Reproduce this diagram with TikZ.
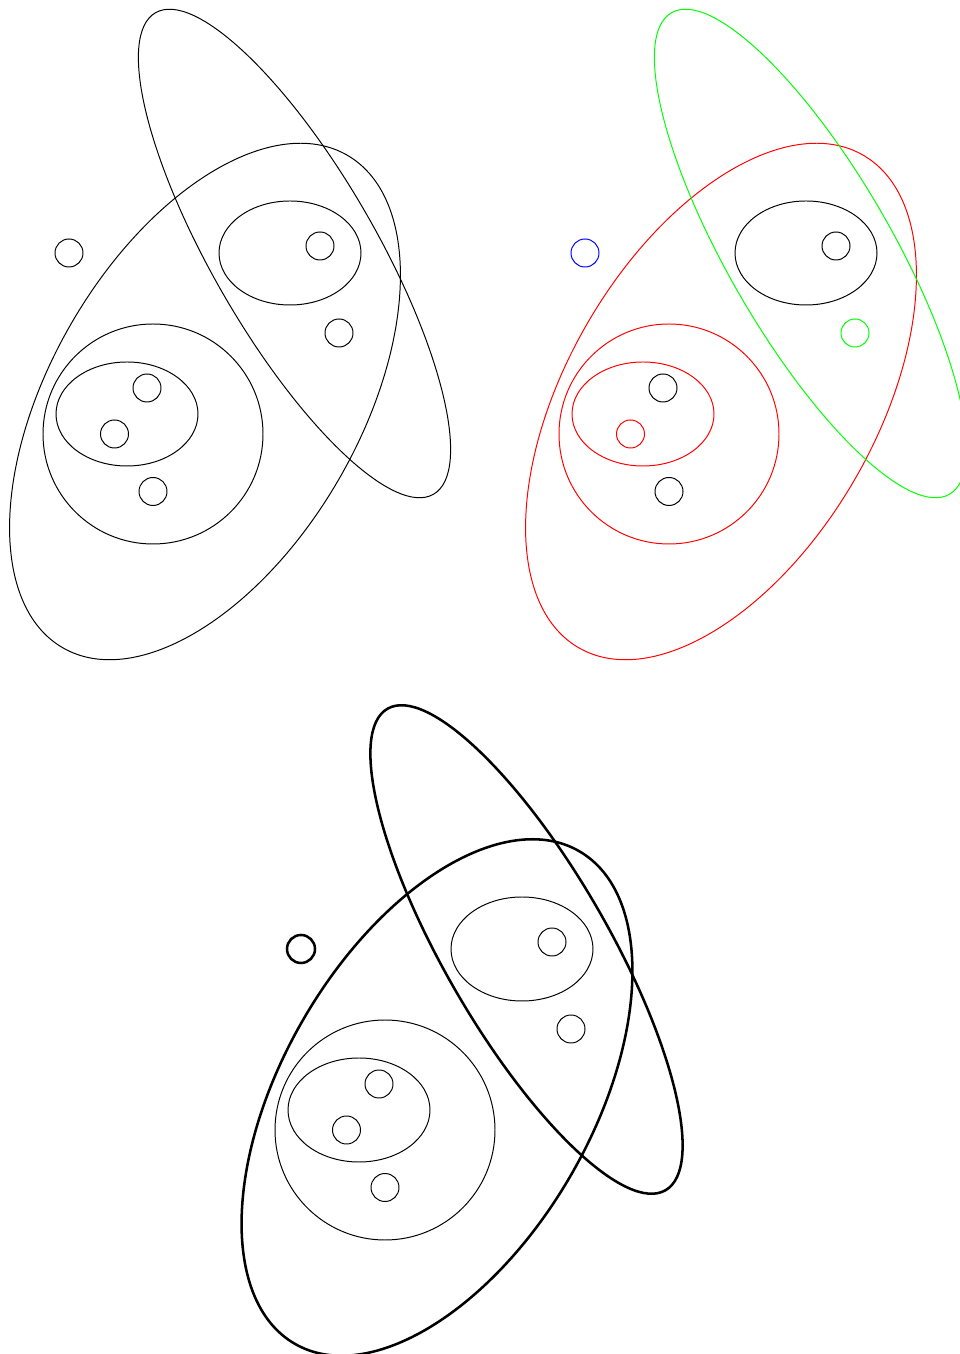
\documentclass[tikz,border=0pt]{standalone}
\usepackage{tikz}
\tikzset{
  rim/.style={line width=0.7pt},
  boldrim/.style={line width=1.8pt},
}
\begin{document}
\begin{tikzpicture}[rim]
  \useasboundingbox (0,0) rectangle (24,33.85);

  \begin{scope}
    \draw[shift={(5.125,23.8125)},rotate=60] (0,0) ellipse (7.11 and 3.87);
    \draw[shift={(7.3625,27.5125)},rotate=120] (0,0) ellipse (6.95 and 2.05);
    \draw (7.25,27.525) ellipse (1.775 and 1.3);
    \draw (8.0,27.7) circle (0.35);
    \draw (8.475,25.525) circle (0.35);
    \draw (1.725,27.525) circle (0.35);
    \draw (3.825,23.0) circle (2.75);
    \draw (3.175,23.5) ellipse (1.775 and 1.3);
    \draw (3.675,24.15) circle (0.35);
    \draw (2.8625,23.0) circle (0.35);
    \draw (3.825,21.5625) circle (0.35);
  \end{scope}

  \begin{scope}[shift={(12.9,0)}]
    \draw[red,shift={(5.125,23.8125)},rotate=60] (0,0) ellipse (7.11 and 3.87);
    \draw[green,shift={(7.3625,27.5125)},rotate=120] (0,0) ellipse (6.95 and 2.05);
    \draw (7.25,27.525) ellipse (1.775 and 1.3);
    \draw (8.0,27.7) circle (0.35);
    \draw[green] (8.475,25.525) circle (0.35);
    \draw[blue] (1.725,27.525) circle (0.35);
    \draw[red] (3.825,23.0) circle (2.75);
    \draw[red] (3.175,23.5) ellipse (1.775 and 1.3);
    \draw (3.675,24.15) circle (0.35);
    \draw[red] (2.8625,23.0) circle (0.35);
    \draw (3.825,21.5625) circle (0.35);
  \end{scope}

  \begin{scope}[shift={(5.8,-17.4)}]
    \draw[boldrim,shift={(5.125,23.8125)},rotate=60] (0,0) ellipse (7.11 and 3.87);
    \draw[boldrim,shift={(7.3625,27.5125)},rotate=120] (0,0) ellipse (6.95 and 2.05);
    \draw (7.25,27.525) ellipse (1.775 and 1.3);
    \draw (8.0,27.7) circle (0.35);
    \draw (8.475,25.525) circle (0.35);
    \draw[boldrim] (1.725,27.525) circle (0.35);
    \draw (3.825,23.0) circle (2.75);
    \draw (3.175,23.5) ellipse (1.775 and 1.3);
    \draw (3.675,24.15) circle (0.35);
    \draw (2.8625,23.0) circle (0.35);
    \draw (3.825,21.5625) circle (0.35);
  \end{scope}
\end{tikzpicture}
\end{document}
